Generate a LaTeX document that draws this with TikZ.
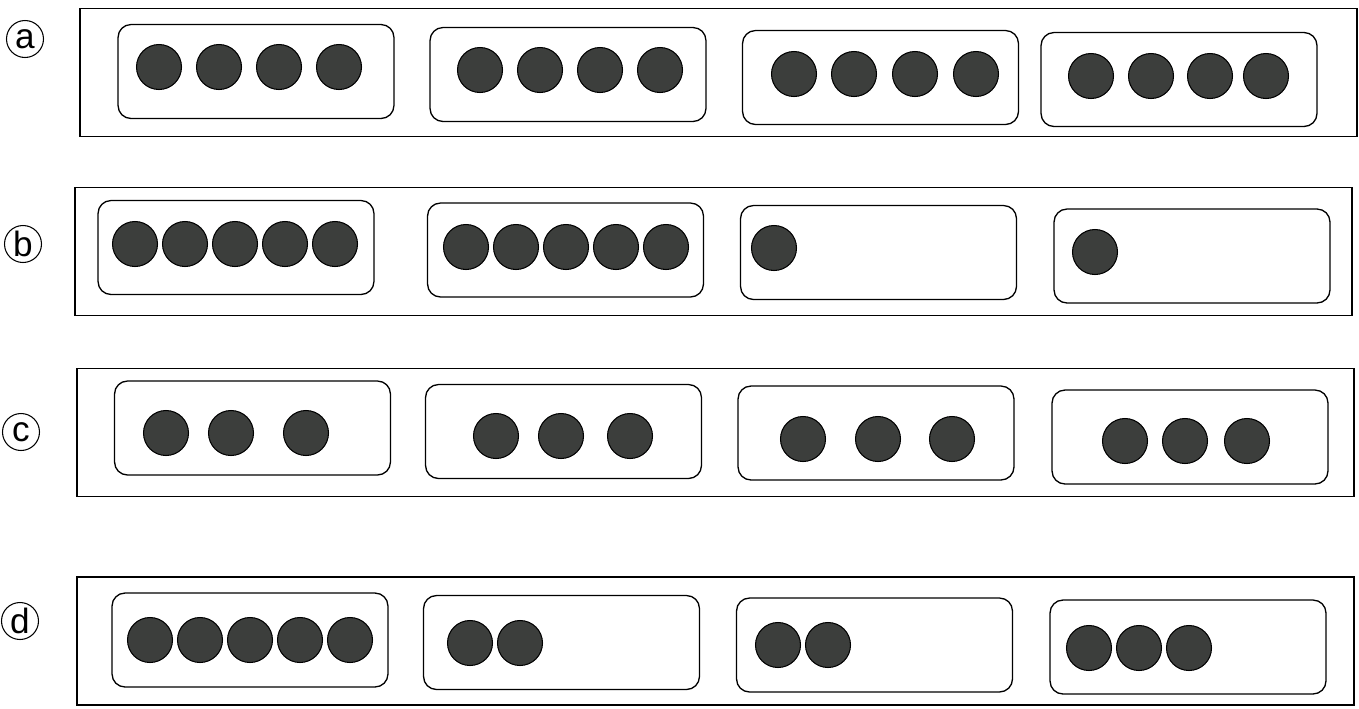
\documentclass[tikz,border=0pt]{standalone}
\usepackage{fontspec}
\setmainfont{Liberation Sans}
\definecolor{beadgray}{RGB}{60,62,60}
\begin{document}
\begin{tikzpicture}[x=0.02cm,y=-0.02cm,
    tray/.style={draw,line width=1.1pt,minimum width=25.54cm,minimum height=2.56cm,inner sep=0pt},
    pocket/.style={draw,line width=0.75pt,rounded corners=0.26cm,minimum width=5.52cm,minimum height=1.88cm,inner sep=0pt},
    bead/.style={circle,draw=black,line width=0.6pt,fill=beadgray,minimum size=0.9cm,inner sep=0pt},
    tag/.style={circle,draw,line width=0.6pt,minimum size=0.74cm,inner sep=0pt,font=\fontsize{20}{20}\selectfont}]
    \useasboundingbox (0,0) rectangle (1359,708);
    % row a
    \node[tag] (la) at (25,39) {a};
    \node[tray] (ta) at (718.5,72.5) {};
    \node[pocket] (a1) at (256,71.5) {};
    \node[pocket] (a2) at (568,74.5) {};
    \node[pocket] (a3) at (880.5,77.5) {};
    \node[pocket] (a4) at (1179,79.5) {};
    \foreach \x [count=\i] in {159,219,279,339} \node[bead] (a1b\i) at (\x,67) {};
    \foreach \x [count=\i] in {480,540,600,660} \node[bead] (a2b\i) at (\x,70) {};
    \foreach \x [count=\i] in {794,854,915,976} \node[bead] (a3b\i) at (\x,74) {};
    \foreach \x [count=\i] in {1091,1151,1210,1266} \node[bead] (a4b\i) at (\x,76) {};
    % row b
    \node[tag] (lb) at (23,244) {b};
    \node[tray] (tb) at (713.5,251.5) {};
    \node[pocket] (b1) at (236,247.5) {};
    \node[pocket] (b2) at (565.5,250) {};
    \node[pocket] (b3) at (878.5,252.5) {};
    \node[pocket] (b4) at (1192,256) {};
    \foreach \x [count=\i] in {135,185,235,285,335} \node[bead] (b1b\i) at (\x,244) {};
    \foreach \x [count=\i] in {466,516,566,616,666} \node[bead] (b2b\i) at (\x,247) {};
    \node[bead] (b3b1) at (774,248) {};
    \node[bead] (b4b1) at (1095,252) {};
    % row c
    \node[tag] (lc) at (21,432) {c};
    \node[tray] (tc) at (715.5,432.5) {};
    \node[pocket] (c1) at (252.5,428) {};
    \node[pocket] (c2) at (563.5,431.5) {};
    \node[pocket] (c3) at (876,433) {};
    \node[pocket] (c4) at (1190,437) {};
    \foreach \x [count=\i] in {166,231,306} \node[bead] (c1b\i) at (\x,433) {};
    \foreach \x [count=\i] in {496,561,630} \node[bead] (c2b\i) at (\x,436) {};
    \foreach \x [count=\i] in {803,878,952} \node[bead] (c3b\i) at (\x,439) {};
    \foreach \x [count=\i] in {1125,1185,1247} \node[bead] (c4b\i) at (\x,441) {};
    % row d
    \node[tag] (ld) at (20,621) {d};
    \node[tray] (td) at (715.5,641) {};
    \node[pocket] (d1) at (250,640) {};
    \node[pocket] (d2) at (561.5,642.5) {};
    \node[pocket] (d3) at (874.5,645) {};
    \node[pocket] (d4) at (1188,647) {};
    \foreach \x [count=\i] in {150,200,250,300,350} \node[bead] (d1b\i) at (\x,640) {};
    \foreach \x [count=\i] in {470,520} \node[bead] (d2b\i) at (\x,643) {};
    \foreach \x [count=\i] in {778,828} \node[bead] (d3b\i) at (\x,645) {};
    \foreach \x [count=\i] in {1089,1139,1189} \node[bead] (d4b\i) at (\x,648) {};
\end{tikzpicture}
\end{document}
